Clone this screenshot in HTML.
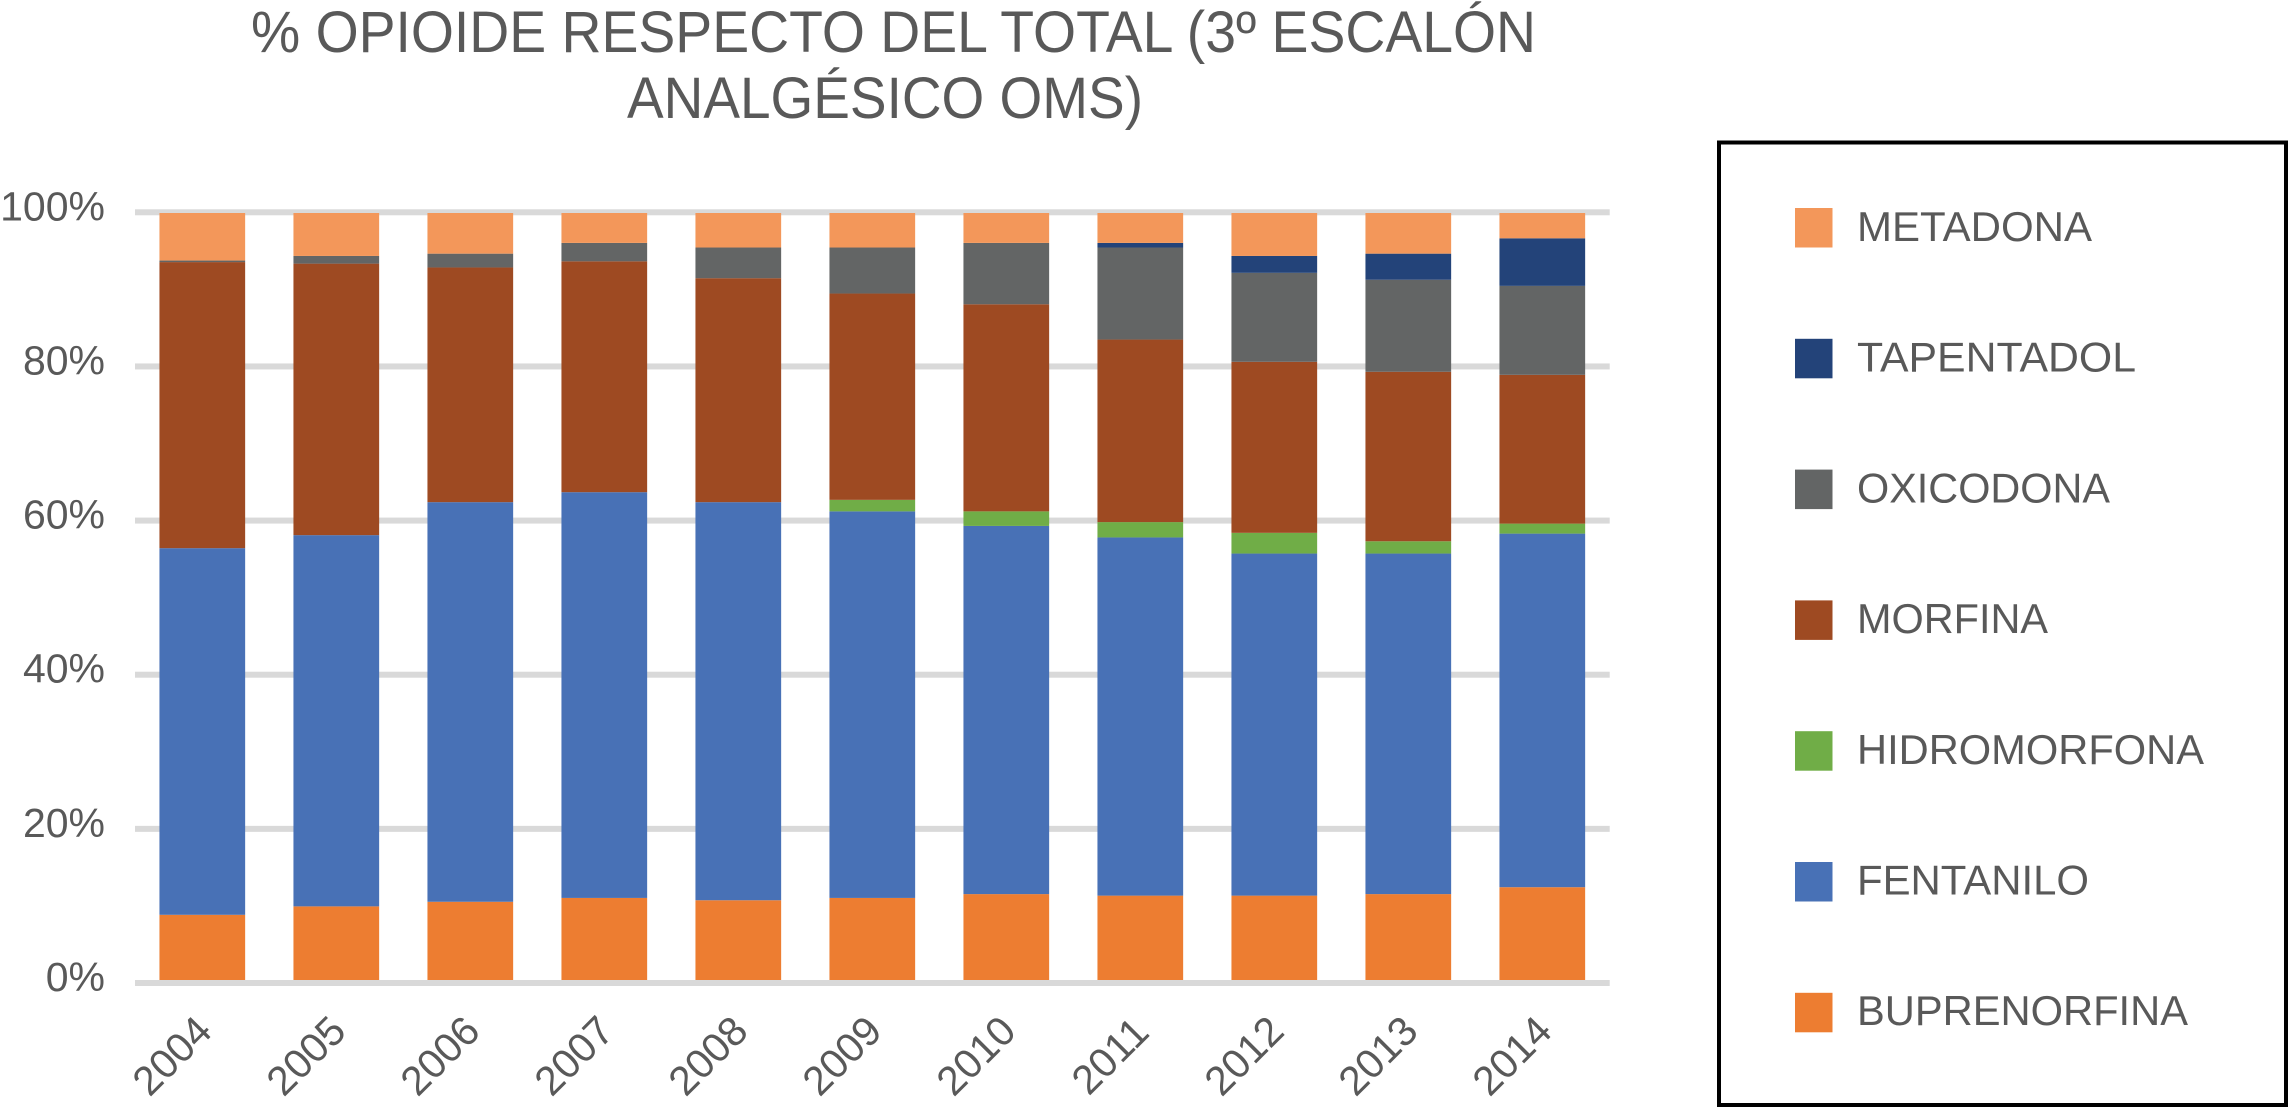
<!DOCTYPE html>
<html lang="es">
<head>
<meta charset="utf-8">
<title>% Opioide respecto del total</title>
<style>
  html, body { margin: 0; padding: 0; background: #fff; }
  svg { display: block; font-family: "Liberation Sans", Arial, sans-serif; }
  text { fill: #595959; }
</style>
</head>
<body>
<svg id="chart" xmlns="http://www.w3.org/2000/svg" width="2288" height="1107" viewBox="0 0 2288 1107">
  <rect x="0" y="0" width="2288" height="1107" fill="#ffffff"/>
  <g font-size="58">
    <text x="251" y="52" textLength="1285" lengthAdjust="spacingAndGlyphs">% OPIOIDE RESPECTO DEL TOTAL (3º ESCALÓN</text>
    <text x="627" y="118" textLength="516" lengthAdjust="spacingAndGlyphs">ANALGÉSICO OMS)</text>
  </g>
  <g id="grid"></g>
  <g id="bars"></g>
  <g id="yaxis"></g>
  <g id="xaxis"></g>
  <rect x="1719" y="142.5" width="567" height="962.5" fill="#ffffff" stroke="#000000" stroke-width="4"/>
  <g id="legend"></g>
</svg>
<script>
const years = ["2004","2005","2006","2007","2008","2009","2010","2011","2012","2013","2014"];
const yTicks = [0, 20, 40, 60, 80, 100];
const buprenorfina = [8.5, 9.6, 10.2, 10.7, 10.4, 10.7, 11.2, 11.0, 11.0, 11.2, 12.1];
const fentanilo    = [47.8, 48.4, 52.1, 52.9, 51.9, 50.4, 48.0, 46.7, 44.6, 44.4, 46.1];
const hidromorfona = [0, 0, 0, 0, 0, 1.5, 1.9, 2.0, 2.7, 1.6, 1.3];
const morfina      = [37.3, 35.4, 30.6, 30.1, 29.2, 26.9, 27.0, 23.8, 22.3, 22.1, 19.4];
const oxicodona    = [0.2, 1.0, 1.8, 2.4, 4.0, 6.0, 8.0, 12.0, 11.6, 12.0, 11.6];
const tapentadol   = [0, 0, 0, 0, 0, 0, 0, 0.6, 2.2, 3.4, 6.2];
const metadona     = [6.2, 5.6, 5.3, 3.9, 4.5, 4.5, 3.9, 3.9, 5.6, 5.3, 3.3];

const NS = "http://www.w3.org/2000/svg";
const stackOrder = [
  { name: "BUPRENORFINA", values: buprenorfina, color: "#ED7D31", labelWidth: 331 },
  { name: "FENTANILO", values: fentanilo, color: "#4871B6", labelWidth: 232 },
  { name: "HIDROMORFONA", values: hidromorfona, color: "#70AD47", labelWidth: 347 },
  { name: "MORFINA", values: morfina, color: "#9E4A22", labelWidth: 191 },
  { name: "OXICODONA", values: oxicodona, color: "#636565", labelWidth: 253 },
  { name: "TAPENTADOL", values: tapentadol, color: "#234379", labelWidth: 279 },
  { name: "METADONA", values: metadona, color: "#F3975A", labelWidth: 235 }
];

function yBar(v) { return 980 - v * 7.67; }
function yGrid(v) { return 983 - v * 7.707; }
function xCenter(i) { return 202.3 + i * 134; }
const barWidth = 85.7;

function make(tag, attrs, parent, text) {
  const el = document.createElementNS(NS, tag);
  for (const k in attrs) el.setAttribute(k, attrs[k]);
  if (text !== undefined) el.textContent = text;
  parent.appendChild(el);
  return el;
}

const gridG = document.getElementById("grid");
const yG = document.getElementById("yaxis");
yTicks.forEach(function (t) {
  const line = make("rect", { x: 135, y: yGrid(t) - 3, width: 1474.7, height: 6, fill: "#D9D9D9" }, gridG);
  
  
  const label = make("text", { x: 105, y: yGrid(t) + 8, "text-anchor": "end", "font-size": 41 }, yG, t + "%");
  
  
});

const barsG = document.getElementById("bars");
years.forEach(function (year, i) {
  let cum = 0;
  stackOrder.forEach(function (s) {
    const v = s.values[i];
    if (v > 0) {
      const seg = make("rect", {
        x: xCenter(i) - barWidth / 2,
        y: yBar(cum + v),
        width: barWidth,
        height: yBar(cum) - yBar(cum + v),
        fill: s.color
      }, barsG);
      
      
    }
    cum += v;
  });
});

const xG = document.getElementById("xaxis");
years.forEach(function (year, i) {
  const cx = xCenter(i) - 31;
  const label = make("text", {
    x: cx,
    y: 1070,
    "text-anchor": "middle",
    "font-size": 41,
    transform: "rotate(-45 " + cx + " 1055)"
  }, xG, year);
  
  
});

const legendG = document.getElementById("legend");
stackOrder.slice().reverse().forEach(function (s, i) {
  const swatch = make("rect", { x: 1795, y: 208 + i * 130.8, width: 37.5, height: 39.5, fill: s.color }, legendG);
  
  
  const label = make("text", { x: 1857, y: 241 + i * 130.7, "font-size": 42, textLength: s.labelWidth, lengthAdjust: "spacingAndGlyphs" }, legendG, s.name);
  
  
});
</script>
</body>
</html>
